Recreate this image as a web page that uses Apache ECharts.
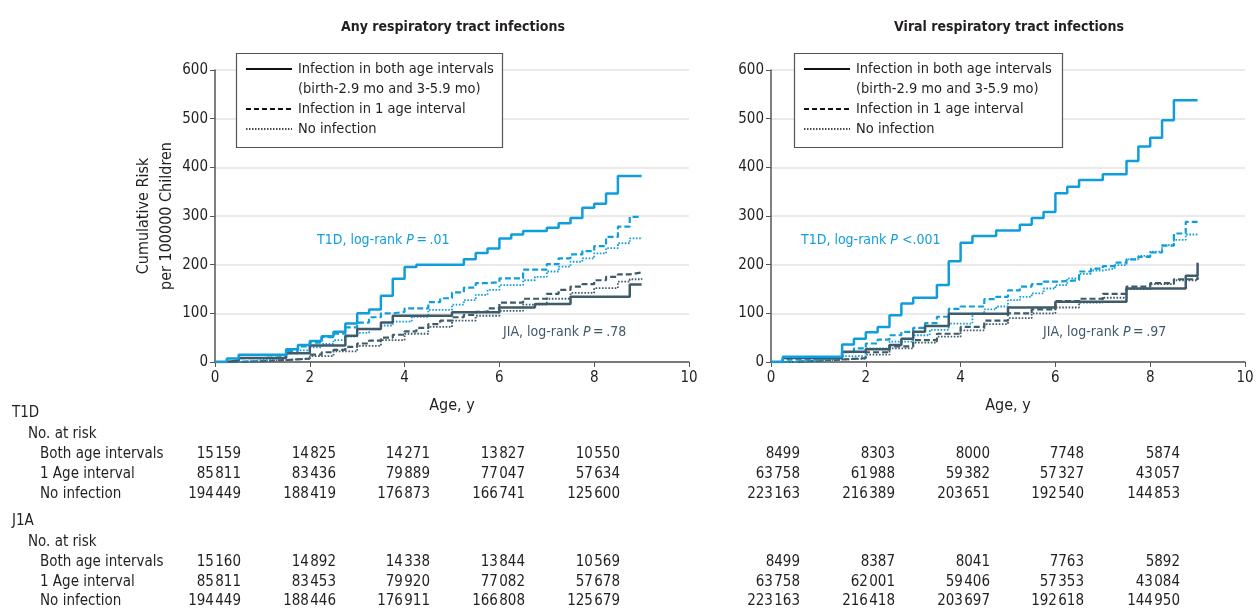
<!DOCTYPE html>
<html><head><meta charset="utf-8">
<script src="https://cdn.jsdelivr.net/npm/echarts@6/dist/echarts.min.js"></script>
<style>html,body{margin:0;padding:0;background:#fff}#c{width:1257px;height:611px}</style>
</head><body><div id="c"></div>
<script>
// ---------- DATA ----------
var panelTitles = ['Any respiratory tract infections', 'Viral respiratory tract infections'];
var xTicks = [0, 2, 4, 6, 8, 10];
var yTicks = [0, 100, 200, 300, 400, 500, 600];
var legendLabels = ['Infection in both age intervals', '(birth-2.9 mo and 3-5.9 mo)', 'Infection in 1 age interval', 'No infection'];
var pLabels = [['T1D, log-rank ', 'P', '\u2009=\u2009.01'], ['JIA, log-rank ', 'P', '\u2009=\u2009.78'], ['T1D, log-rank ', 'P', ' <.001'], ['JIA, log-rank ', 'P', '\u2009=\u2009.97']];

// Any respiratory tract infections
var anyT1dBoth = [[0,0],[0.25,7],[0.5,15],[1.5,26],[1.75,35],[2,43],[2.25,53],[2.5,62],[2.75,79],[3,100],[3.25,108],[3.5,136],[3.75,171],[4,195],[4.25,200],[5.25,211],[5.5,224],[5.75,233],[6,254],[6.25,262],[6.5,269],[7,276],[7.25,285],[7.5,296],[7.75,317],[8,325],[8.25,346],[8.5,382],[9,382]];
var anyT1dOne = [[0,0],[0.25,3],[0.5,8],[1,10],[1.5,23],[1.75,32],[2,40],[2.25,51],[2.5,58],[2.75,71],[3,81],[3.25,92],[3.5,100],[3.75,103],[4,110],[4.5,123],[4.75,131],[5,143],[5.25,153],[5.5,162],[5.75,164],[6,172],[6.5,190],[7,201],[7.25,213],[7.5,221],[7.75,228],[8,238],[8.25,257],[8.5,278],[8.75,298],[9,298]];
var anyT1dNone = [[0,0],[0.5,4],[1,8],[1.5,18],[1.75,24],[2,30],[2.25,37],[2.5,45],[2.75,52],[3,60],[3.25,67],[3.5,75],[3.75,83],[4.15,93],[4.5,107],[5,118],[5.25,127],[5.5,138],[5.75,148],[6,158],[6.5,168],[6.75,175],[7,186],[7.25,196],[7.5,206],[7.75,213],[8,223],[8.25,234],[8.5,244],[8.75,254],[9,256]];
var anyJiaBoth = [[0,0],[0.25,3],[0.5,8],[1.5,18],[2,34],[2.75,54],[3,68],[3.5,81],[3.75,95],[5,102],[6,112],[6.75,119],[7.5,134],[8.75,159],[9,159]];
var anyJiaOne = [[0,0],[0.5,2],[1,4],[1.5,7],[2,15],[2.25,20],[2.5,25],[2.75,31],[3,38],[3.25,44],[3.5,50],[3.75,56],[4,63],[4.25,70],[4.5,78],[4.75,85],[5,92],[5.25,97],[5.5,103],[5.75,110],[6,122],[6.5,130],[7,140],[7.25,148],[7.5,155],[7.75,160],[8,168],[8.25,175],[8.5,180],[8.75,184],[9,184]];
var anyJiaNone = [[0,0],[0.5,2],[1,4],[1.5,7],[2,12],[2.5,22],[3,33],[3.5,45],[4,58],[4.5,72],[5,85],[5.5,95],[6,105],[6.5,118],[7,130],[7.5,142],[8,152],[8.5,165],[8.75,170],[9,172]];

// Viral respiratory tract infections
var virT1dBoth = [[0,0],[0.25,11],[1.5,36],[1.75,48],[2,61],[2.25,72],[2.5,96],[2.75,120],[3,132],[3.5,158],[3.75,207],[4,245],[4.25,259],[4.75,270],[5.25,282],[5.5,296],[5.75,308],[6,347],[6.25,360],[6.5,374],[7,386],[7.5,413],[7.75,443],[8,461],[8.25,497],[8.5,538],[9,538]];
var virT1dOne = [[0,0],[0.25,5],[1,8],[1.5,20],[1.75,28],[2,38],[2.25,46],[2.5,55],[2.75,62],[3,70],[3.25,80],[3.5,93],[3.75,109],[4,114],[4.5,129],[4.75,134],[5,147],[5.25,155],[5.5,160],[5.75,165],[6,168],[6.5,186],[6.75,192],[7,197],[7.25,204],[7.5,211],[7.75,216],[8,225],[8.25,239],[8.5,264],[8.75,288],[9,288]];
var virT1dNone = [[0,0],[0.5,4],[1,7],[1.5,12],[2,28],[2.5,42],[3,55],[3.35,66],[3.75,79],[4.25,100],[4.5,108],[4.75,114],[5,127],[5.25,134],[5.5,141],[5.75,151],[6,158],[6.25,172],[6.5,181],[6.75,188],[7,192],[7.25,199],[7.5,211],[7.75,218],[8,227],[8.25,240],[8.5,251],[8.75,262],[9,262]];
var virJiaBoth = [[0,0],[0.25,8],[1.5,21],[2,26],[2.5,35],[2.75,48],[3,62],[3.25,74],[3.75,99],[5,112],[6,124],[7.5,151],[8.75,177],[9,204]];
var virJiaOne = [[0,0],[0.5,3],[1,5],[1.5,8],[2,20],[2.5,32],[3,45],[3.5,58],[4,72],[4.5,85],[5,100],[5.5,108],[6,125],[6.5,130],[7,140],[7.5,155],[8,162],[8.5,170],[9,175]];
var virJiaNone = [[0,0],[0.5,3],[1,5],[1.5,7],[2,15],[2.5,28],[3,40],[3.5,52],[4,65],[4.5,78],[5,90],[5.5,100],[6,112],[6.5,122],[7,132],[7.5,150],[8,160],[8.5,168],[9,175]];

// Number at risk table
var tableGroups = ['T1D', 'J1A'];
var tableSub = 'No. at risk';
var tableRowLabels = ['Both age intervals', '1 Age interval', 'No infection'];
var t1dAnyBoth = [15159,14825,14271,13827,10550];
var t1dAnyOne = [85811,83436,79889,77047,57634];
var t1dAnyNone = [194449,188419,176873,166741,125600];
var jiaAnyBoth = [15160,14892,14338,13844,10569];
var jiaAnyOne = [85811,83453,79920,77082,57678];
var jiaAnyNone = [194449,188446,176911,166808,125679];
var t1dVirBoth = [8499,8303,8000,7748,5874];
var t1dVirOne = [63758,61988,59382,57327,43057];
var t1dVirNone = [223163,216389,203651,192540,144853];
var jiaVirBoth = [8499,8387,8041,7763,5892];
var jiaVirOne = [63758,62001,59406,57353,43084];
var jiaVirNone = [223163,216418,203697,192618,144950];

// ---------- STYLE / LAYOUT ----------
var FONT = '"Liberation Sans Narrow", "DejaVu Sans Condensed", Roboto, sans-serif';
var BLUE = '#0f9edb', DARK = '#3f5a68', TXT = '#231f20', AX = '#555';
var grids = [{left: 215, top: 70, width: 474, height: 292}, {left: 771, top: 70, width: 474, height: 292}];

function fmt(n) {
  var s = String(n);
  if (s.length >= 5) s = s.slice(0, s.length - 3) + '\u200A' + s.slice(s.length - 3);
  return s;
}

var xAxes = [], yAxes = [];
grids.forEach(function (g, i) {
  xAxes.push({
    gridIndex: i, type: 'value', min: xTicks[0], max: xTicks[xTicks.length - 1], interval: 2,
    name: 'Age, y', nameLocation: 'middle', nameGap: 36,
    nameTextStyle: {fontFamily: FONT, fontSize: 16, color: TXT},
    axisLine: {lineStyle: {color: AX, width: 1.5}},
    axisTick: {show: true, length: 5, lineStyle: {color: AX}},
    axisLabel: {fontFamily: FONT, fontSize: 15, color: TXT, margin: 9},
    splitLine: {show: false}
  });
  yAxes.push({
    gridIndex: i, type: 'value', min: yTicks[0], max: yTicks[yTicks.length - 1], interval: 100,
    name: i === 0 ? 'Cumulative Risk\nper 100000 Children' : '', nameLocation: 'middle', nameGap: 31,
    nameTextStyle: {fontFamily: FONT, fontSize: 16, color: TXT, lineHeight: 23},
    axisLine: {show: true, lineStyle: {color: AX, width: 1.5}},
    axisTick: {show: true, length: 5, lineStyle: {color: AX}},
    axisLabel: {fontFamily: FONT, fontSize: 15, color: TXT, margin: 7},
    splitLine: {show: true, lineStyle: {color: '#e3e3e3', width: 1.5}}
  });
});

function ser(data, gi, color, kind) {
  var ls = {color: color, width: 2.2, type: 'solid'};
  if (kind === 'dash') { ls.type = [6, 3]; ls.width = 2.2; }
  if (kind === 'dot') { ls.type = [1.6, 1.6]; ls.width = 1.8; }
  if (kind === 'solid') ls.width = 2.5;
  return {type: 'line', xAxisIndex: gi, yAxisIndex: gi, data: data, step: 'end', symbol: 'none',
    lineStyle: ls, silent: true, animation: false, z: kind === 'solid' ? 4 : 3};
}

var series = [
  ser(anyJiaNone, 0, DARK, 'dot'), ser(anyJiaOne, 0, DARK, 'dash'), ser(anyJiaBoth, 0, DARK, 'solid'),
  ser(anyT1dNone, 0, BLUE, 'dot'), ser(anyT1dOne, 0, BLUE, 'dash'), ser(anyT1dBoth, 0, BLUE, 'solid'),
  ser(virJiaNone, 1, DARK, 'dot'), ser(virJiaOne, 1, DARK, 'dash'), ser(virJiaBoth, 1, DARK, 'solid'),
  ser(virT1dNone, 1, BLUE, 'dot'), ser(virT1dOne, 1, BLUE, 'dash'), ser(virT1dBoth, 1, BLUE, 'solid')
];

var graphic = [];
// titles
[453, 1009].forEach(function (cx, i) {
  graphic.push({type: 'text', x: cx, y: 27, style: {text: panelTitles[i], font: 'bold 14px ' + FONT, fill: TXT, textAlign: 'center', textVerticalAlign: 'middle'}});
});
// legends
[[236, 502], [794, 1062]].forEach(function (b) {
  graphic.push({type: 'rect', shape: {x: b[0] + 0.5, y: 53.5, width: b[1] - b[0], height: 94}, style: {fill: '#fff', stroke: '#555', lineWidth: 1.2}, z: 10});
  var lx0 = b[0] + 10, lx1 = b[0] + 56, tx = b[0] + 62;
  var rows = [{y: 69, dash: null, w: 2.2}, {y: 109, dash: [5, 3], w: 2}, {y: 129, dash: [1.5, 1.5], w: 1.6}];
  rows.forEach(function (r) {
    graphic.push({type: 'line', shape: {x1: lx0, y1: r.y, x2: lx1, y2: r.y}, style: {stroke: '#111', lineWidth: r.w, lineDash: r.dash}, z: 11});
  });
  [69, 89, 109, 129].forEach(function (y, k) {
    graphic.push({type: 'text', x: tx, y: y, style: {text: legendLabels[k], font: '14.5px ' + FONT, fill: TXT, textAlign: 'left', textVerticalAlign: 'middle'}, z: 11});
  });
});
// annotations
var annPos = [[317, 240, BLUE], [503, 332, DARK], [801, 240, BLUE], [1043, 332, DARK]];
annPos.forEach(function (p, i) {
  graphic.push({type: 'text', x: p[0], y: p[1], style: {
    rich: {a: {font: '14px ' + FONT, fill: p[2]}, b: {font: 'italic 14px ' + FONT, fill: p[2]}},
    text: '{a|' + pLabels[i][0] + '}{b|' + pLabels[i][1] + '}{a|' + pLabels[i][2] + '}',
    textVerticalAlign: 'middle'}, z: 5});
});
// table
var groupY = [[413, 434, [454, 474, 494]], [521, 542, [562, 582, 601]]];
var tblData = [
  [[t1dAnyBoth, t1dAnyOne, t1dAnyNone], [t1dVirBoth, t1dVirOne, t1dVirNone]],
  [[jiaAnyBoth, jiaAnyOne, jiaAnyNone], [jiaVirBoth, jiaVirOne, jiaVirNone]]
];
var colX = [[241, 336, 430, 525, 620], [800, 895, 990, 1084, 1180]];
function txt(s, x, y, align) {
  graphic.push({type: 'text', x: x, y: y, style: {text: s, font: '15px ' + FONT, fill: TXT, textAlign: align, textVerticalAlign: 'middle'}});
}
groupY.forEach(function (gy, gi) {
  txt(tableGroups[gi], 12, gy[0], 'left');
  txt(tableSub, 28, gy[1], 'left');
  gy[2].forEach(function (ry, ri) {
    txt(tableRowLabels[ri], 40, ry, 'left');
    for (var p = 0; p < 2; p++) {
      tblData[gi][p][ri].forEach(function (v, c) { txt(fmt(v), colX[p][c], ry, 'right'); });
    }
  });
});

var chart = echarts.init(document.getElementById('c'), null, {renderer: 'canvas'});
chart.setOption({
  animation: false,
  backgroundColor: '#fff',
  grid: grids,
  xAxis: xAxes,
  yAxis: yAxes,
  series: series,
  graphic: graphic
});
</script>
</body></html>
